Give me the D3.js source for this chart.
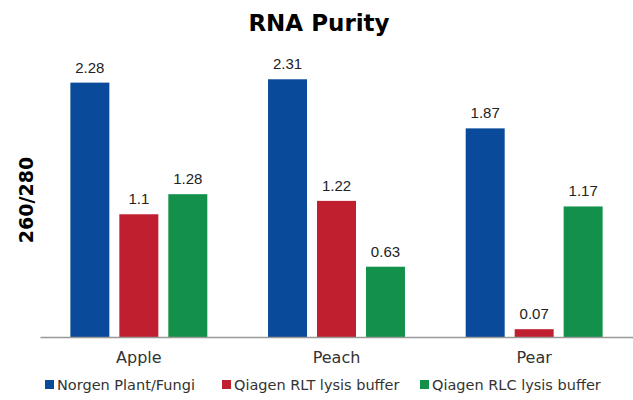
<!DOCTYPE html>
<html>
<head>
<meta charset="utf-8">
<script src="https://cdn.jsdelivr.net/npm/d3@7"></script>
<style>
  body { margin: 0; background: #fff; }
  text { font-family: "Liberation Sans", Arial, sans-serif; }
</style>
</head>
<body>
<div id="chart"></div>
<script>
const categories = ["Apple", "Peach", "Pear"];
const seriesNames = ["Norgen Plant/Fungi", "Qiagen RLT lysis buffer", "Qiagen RLC lysis buffer"];
const norgen = [2.28, 2.31, 1.87];
const qiagenRLT = [1.1, 1.22, 0.07];
const qiagenRLC = [1.28, 0.63, 1.17];
const colors = ["#0a4a9a", "#c01f30", "#13904a"];

const seriesValues = [norgen, qiagenRLT, qiagenRLC];
const width = 633, height = 400;
const margin = {top: 40, right: 0, bottom: 63, left: 40};

const svg = d3.select("#chart").append("svg")
    .attr("width", width)
    .attr("height", height);

const x0 = d3.scaleBand()
    .domain(categories)
    .range([margin.left, width - margin.right]);

const x1 = d3.scaleBand()
    .domain(seriesNames)
    .range([0, x0.bandwidth()])
    .paddingInner(0.204)
    .paddingOuter(0.62);

const y = d3.scaleLinear()
    .domain([0, 2.662])
    .range([height - margin.bottom, margin.top]);

// title
svg.append("text")
    .attr("x", 319).attr("y", 31)
    .attr("text-anchor", "middle")
    .style("font-family", "'DejaVu Sans', sans-serif")
    .style("font-weight", "bold")
    .style("font-size", "23px")
    .text("RNA Purity");

// y label
svg.append("text")
    .attr("transform", "translate(33,200) rotate(-90)")
    .attr("text-anchor", "middle")
    .style("font-family", "'DejaVu Sans', sans-serif")
    .style("font-weight", "bold")
    .style("font-size", "19px")
    .text("260/280");

// bars
const rows = (c, i) => seriesNames.map((s, j) => ({s, j, v: seriesValues[j][i]}));
const groups = svg.append("g").selectAll("g")
    .data(categories)
    .join("g")
    .attr("transform", d => `translate(${x0(d)},0)`);

groups.selectAll("rect")
    .data(rows)
    .join("rect")
    .attr("x", d => x1(d.s))
    .attr("y", d => y(d.v))
    .attr("width", x1.bandwidth())
    .attr("height", d => y(0) - y(d.v))
    .attr("fill", d => colors[d.j]);

groups.selectAll("text")
    .data(rows)
    .join("text")
    .attr("x", d => x1(d.s) + x1.bandwidth() / 2)
    .attr("y", d => y(d.v) - 10)
    .attr("text-anchor", "middle")
    .style("font-size", "15px")
    .attr("fill", "#222")
    .text(d => d.v);

// x axis
const xAxis = svg.append("g")
    .attr("transform", `translate(0,${y(0)})`)
    .call(d3.axisBottom(x0).tickSize(0).tickPadding(15));
xAxis.select(".domain").attr("stroke", "#999").attr("stroke-width", 1.5);
xAxis.selectAll("text")
    .style("font-family", "'DejaVu Sans', sans-serif")
    .style("font-size", "16px")
    .attr("fill", "#333");

// legend
const legendX = [45, 222, 420];
const legend = svg.append("g").selectAll("g")
    .data(seriesNames)
    .join("g")
    .attr("transform", (d, i) => `translate(${legendX[i]},380)`);
legend.append("rect")
    .attr("width", 9).attr("height", 9)
    .attr("fill", (d, i) => colors[i]);
legend.append("text")
    .attr("x", 12).attr("y", 10)
    .style("font-family", "'DejaVu Sans', sans-serif")
    .style("font-size", "14.5px")
    .attr("fill", "#333")
    .text(d => d);
</script>
</body>
</html>
